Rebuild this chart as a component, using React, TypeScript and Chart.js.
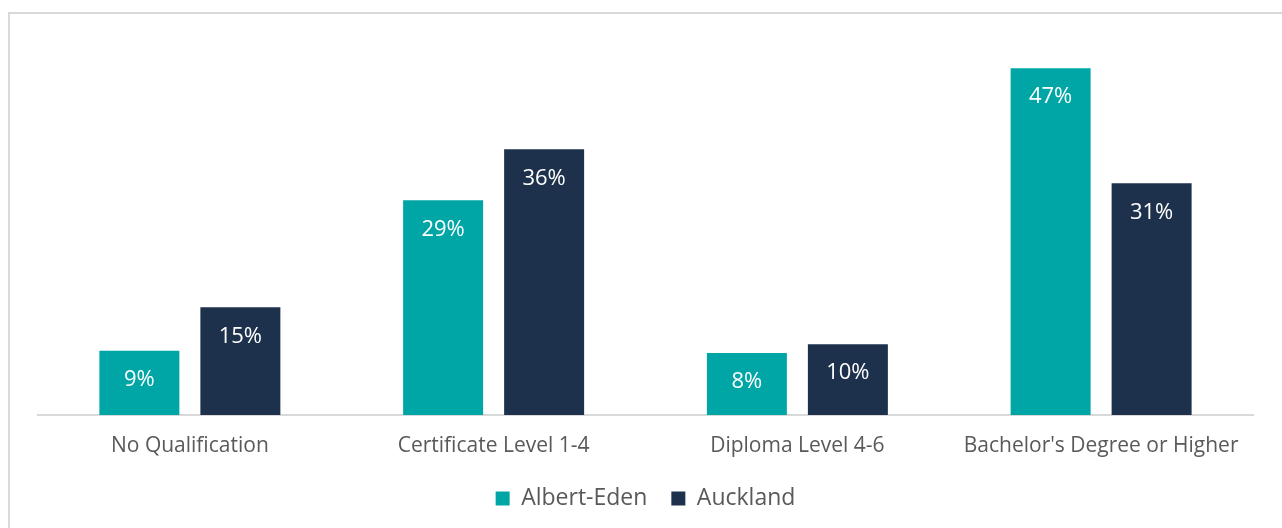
import React, { useEffect, useRef } from "react";
import { Chart, registerables } from "chart.js";

Chart.register(...registerables);

const categories = [
  "No Qualification",
  "Certificate Level 1-4",
  "Diploma Level 4-6",
  "Bachelor's Degree or Higher",
];
const seriesNames = ["Albert-Eden", "Auckland"];
const albertEden = [8.7, 29.1, 8.4, 47.0];
const auckland = [14.6, 36.0, 9.6, 31.4];
const seriesColors = ["#00A6A6", "#1D314C"];
const yMax = 50;

const FONT = "'Open Sans', 'Liberation Sans', sans-serif";
const TEXT = "#595959";

const dataLabelPlugin = {
  id: "dataLabels",
  afterDatasetsDraw(chart: any) {
    const ctx = chart.ctx;
    ctx.save();
    ctx.fillStyle = "#ffffff";
    ctx.font = `22px ${FONT}`;
    ctx.textAlign = "center";
    ctx.textBaseline = "middle";
    chart.data.datasets.forEach((ds: any, di: number) => {
      const meta = chart.getDatasetMeta(di);
      meta.data.forEach((bar: any, i: number) => {
        const v = ds.data[i] as number;
        ctx.fillText(`${Math.round(v)}%`, bar.x, bar.y + 29);
      });
    });
    ctx.restore();
  },
};

export default function App() {
  const ref = useRef<HTMLCanvasElement | null>(null);

  useEffect(() => {
    if (!ref.current) return;
    const chart = new Chart(ref.current, {
      type: "bar",
      data: {
        labels: categories,
        datasets: [
          {
            label: seriesNames[0],
            data: albertEden,
            backgroundColor: seriesColors[0],
            categoryPercentage: 0.665,
            barPercentage: 0.792,
          },
          {
            label: seriesNames[1],
            data: auckland,
            backgroundColor: seriesColors[1],
            categoryPercentage: 0.665,
            barPercentage: 0.792,
          },
        ],
      },
      options: {
        animation: false,
        responsive: false,
        maintainAspectRatio: false,
        layout: { padding: { left: 28, right: 29, top: 32, bottom: 8 } },
        scales: {
          x: {
            grid: { display: false, drawTicks: false },
            border: { display: true, color: "#D9D9D9", width: 2 },
            ticks: {
              color: TEXT,
              font: { family: FONT, size: 21 },
              padding: 18,
              maxRotation: 0,
              autoSkip: false,
            },
            afterFit(scale: any) {
              scale.height = 48;
            },
          },
          y: {
            display: false,
            min: 0,
            max: yMax,
          },
        },
        plugins: {
          legend: {
            position: "bottom",
            labels: {
              color: TEXT,
              font: { family: FONT, size: 23 },
              boxWidth: 14,
              boxHeight: 14,
              padding: 24,
            },
          },
          tooltip: { enabled: false },
        },
      },
      plugins: [dataLabelPlugin],
    });
    return () => chart.destroy();
  }, []);

  return (
    <div
      style={{
        position: "absolute",
        left: 8,
        top: 12,
        width: 1272,
        height: 514,
        borderTop: "2px solid #D9D9D9",
        borderLeft: "2px solid #D9D9D9",
        background: "#ffffff",
      }}
    >
      <canvas ref={ref} width={1272} height={514} style={{ display: "block" }} />
    </div>
  );
}
